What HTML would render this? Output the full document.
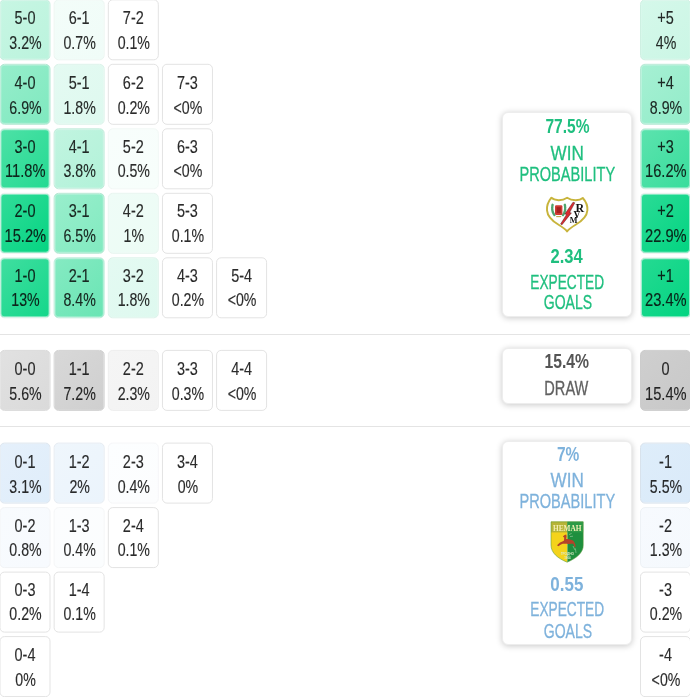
<!DOCTYPE html>
<html><head><meta charset="utf-8"><title>Score probabilities</title>
<style>
html,body{margin:0;padding:0;background:#fff;}
body{width:690px;height:697px;position:relative;overflow:hidden;font-family:"Liberation Sans",sans-serif;color:rgba(8,8,8,.86);}
.c{position:absolute;left:0;top:0;width:49px;height:59px;border:1px solid #e3e3e3;border-radius:5px;background:#fff;text-align:center;font-size:17.5px;line-height:25px;-webkit-text-stroke:0.15px rgba(8,8,8,.86);}

.c span{display:block;transform:translateY(var(--d,0px)) scaleX(.826);white-space:nowrap;margin:0 -10px;}
.c span+span{transform:translate(.5px,calc(var(--d,0px) - .1px)) scaleX(.81);}
.c span.w{transform:translate(.3px,calc(var(--d,0px) - .1px)) scaleX(.838);}
.u8{--d:-.8px}.u6{--d:-.6px}.u11{--d:-1.1px}
.c span:first-child{padding-top:5.7px;}
.hr{position:absolute;left:0;width:690px;height:1px;background:#e4e4e4;}
.p{position:absolute;left:502px;width:128px;border:1px solid #ededed;border-radius:6px;background:#fff;box-shadow:0 1px 6px rgba(0,0,0,.22);text-align:center;font-size:19.5px;line-height:20px;}
.p span{-webkit-text-stroke:0.3px currentColor;}
.p span,.p b{position:absolute;left:-36px;width:200px;display:block;white-space:nowrap;height:20px;}
.logo{position:absolute;}
.g{color:#1fbf7f;}
.b{color:#7eb2dc;}
.d{color:#616161;}
.d b{color:#555;}
</style></head><body>
<div class="c f" style="transform:translate(-0.5px,-0.7px);background:linear-gradient(135deg,#c7f6e3,#bbf3dd);border-color:#c5edde;box-shadow:inset 0 0 0 1px rgba(255,255,255,0.15);"><span>5-0</span><span>3.2%</span></div>
<div class="c f" style="transform:translate(53.65px,-0.7px);background:linear-gradient(135deg,#f3fdf9,#f0fcf8);border-color:#ebf6f1;box-shadow:inset 0 0 0 1px rgba(255,255,255,0.03);"><span>6-1</span><span>0.7%</span></div>
<div class="c" style="transform:translate(107.8px,-0.7px);"><span>7-2</span><span>0.1%</span></div>
<div class="c f" style="transform:translate(-0.5px,63.8px);background:linear-gradient(135deg,#96edcb,#7fe9bf);border-color:#b4e8d3;box-shadow:inset 0 0 0 1px rgba(255,255,255,0.28);"><span>4-0</span><span>6.9%</span></div>
<div class="c f" style="transform:translate(53.65px,63.8px);background:linear-gradient(135deg,#e4faf2,#def9ef);border-color:#dcf3ea;box-shadow:inset 0 0 0 1px rgba(255,255,255,0.07);"><span>5-1</span><span>1.8%</span></div>
<div class="c" style="transform:translate(107.8px,63.8px);"><span>6-2</span><span>0.2%</span></div>
<div class="c" style="transform:translate(161.95px,63.8px);"><span>7-3</span><span>&lt;0%</span></div>
<div class="c f u8" style="transform:translate(-0.5px,128.3px);background:linear-gradient(135deg,#4de1a6,#24da92);border-color:#d3eee3;box-shadow:inset 0 0 0 1px rgba(255,255,255,0.48);"><span>3-0</span><span class="w">11.8%</span></div>
<div class="c f u8" style="transform:translate(53.65px,128.3px);background:linear-gradient(135deg,#c1f4e0,#b2f2d9);border-color:#c1ecdb;box-shadow:inset 0 0 0 1px rgba(255,255,255,0.17);"><span>4-1</span><span>3.8%</span></div>
<div class="c f u8" style="transform:translate(107.8px,128.3px);background:linear-gradient(135deg,#f8fefc,#f7fefb);border-color:#f1f8f5;"><span>5-2</span><span>0.5%</span></div>
<div class="c u8" style="transform:translate(161.95px,128.3px);"><span>6-3</span><span>&lt;0%</span></div>
<div class="c f u8" style="transform:translate(-0.5px,192.8px);background:linear-gradient(135deg,#32dc99,#04d482);border-color:#e9f0ed;box-shadow:inset 0 0 0 1px rgba(255,255,255,0.55);"><span>2-0</span><span class="w">15.2%</span></div>
<div class="c f u8" style="transform:translate(53.65px,192.8px);background:linear-gradient(135deg,#99eecc,#81eac0);border-color:#b5e8d3;box-shadow:inset 0 0 0 1px rgba(255,255,255,0.28);"><span>3-1</span><span>6.5%</span></div>
<div class="c f u8" style="transform:translate(107.8px,192.8px);background:linear-gradient(135deg,#effcf7,#ecfcf5);border-color:#e7f5ef;box-shadow:inset 0 0 0 1px rgba(255,255,255,0.04);"><span>4-2</span><span>1%</span></div>
<div class="c u8" style="transform:translate(161.95px,192.8px);"><span>5-3</span><span>0.1%</span></div>
<div class="c f u8" style="transform:translate(-0.5px,257.3px);background:linear-gradient(135deg,#40dea0,#14d78a);border-color:#deefe8;box-shadow:inset 0 0 0 1px rgba(255,255,255,0.52);"><span>1-0</span><span>13%</span></div>
<div class="c f u8" style="transform:translate(53.65px,257.3px);background:linear-gradient(135deg,#85eac2,#69e5b4);border-color:#bbecd9;box-shadow:inset 0 0 0 1px rgba(255,255,255,0.33);"><span>2-1</span><span>8.4%</span></div>
<div class="c f u8" style="transform:translate(107.8px,257.3px);background:linear-gradient(135deg,#e4faf2,#def9ef);border-color:#dcf3ea;box-shadow:inset 0 0 0 1px rgba(255,255,255,0.07);"><span>3-2</span><span>1.8%</span></div>
<div class="c u8" style="transform:translate(161.95px,257.3px);"><span>4-3</span><span>0.2%</span></div>
<div class="c u8" style="transform:translate(216.1px,257.3px);"><span>5-4</span><span>&lt;0%</span></div>
<div class="c f" style="transform:translate(-0.5px,349.9px);background:linear-gradient(135deg,#e1e1e1,#dadada);border-color:#d9d9d9;"><span>0-0</span><span>5.6%</span></div>
<div class="c f" style="transform:translate(53.65px,349.9px);background:linear-gradient(135deg,#d8d8d8,#cfcfcf);border-color:#d2d2d2;"><span>1-1</span><span>7.2%</span></div>
<div class="c f" style="transform:translate(107.8px,349.9px);background:linear-gradient(135deg,#f5f5f5,#f3f3f3);border-color:#ededed;"><span>2-2</span><span>2.3%</span></div>
<div class="c" style="transform:translate(161.95px,349.9px);"><span>3-3</span><span>0.3%</span></div>
<div class="c" style="transform:translate(216.1px,349.9px);"><span>4-4</span><span>&lt;0%</span></div>
<div class="c f" style="transform:translate(-0.5px,442.6px);background:linear-gradient(135deg,#e5f0fb,#dfedfa);border-color:#dce5ee;"><span>0-1</span><span>3.1%</span></div>
<div class="c f" style="transform:translate(53.65px,442.6px);background:linear-gradient(135deg,#eff6fc,#ebf4fc);border-color:#e5ebf2;"><span>1-2</span><span>2%</span></div>
<div class="c f" style="transform:translate(107.8px,442.6px);background:linear-gradient(135deg,#fcfeff,#fcfdfe);border-color:#f5f6f8;"><span>2-3</span><span>0.4%</span></div>
<div class="c" style="transform:translate(161.95px,442.6px);"><span>3-4</span><span>0%</span></div>
<div class="c f u6" style="transform:translate(-0.5px,507.1px);background:linear-gradient(135deg,#f8fbfe,#f7fafe);border-color:#f1f3f6;"><span>0-2</span><span>0.8%</span></div>
<div class="c f u6" style="transform:translate(53.65px,507.1px);background:linear-gradient(135deg,#fcfdfe,#fbfdfe);border-color:#f4f6f7;"><span>1-3</span><span>0.4%</span></div>
<div class="c u6" style="transform:translate(107.8px,507.1px);"><span>2-4</span><span>0.1%</span></div>
<div class="c u11" style="transform:translate(-0.5px,571.6px);"><span>0-3</span><span>0.2%</span></div>
<div class="c u11" style="transform:translate(53.65px,571.6px);"><span>1-4</span><span>0.1%</span></div>
<div class="c" style="transform:translate(-0.5px,636.1px);"><span>0-4</span><span>0%</span></div>
<div class="c f" style="transform:translate(640px,-0.7px);background:linear-gradient(135deg,#d5f8ea,#cbf6e5);border-color:#cef0e2;box-shadow:inset 0 0 0 1px rgba(255,255,255,0.11);"><span>+5</span><span>4%</span></div>
<div class="c f" style="transform:translate(640px,63.8px);background:linear-gradient(135deg,#a6f0d3,#92ecc9);border-color:#b7e9d5;box-shadow:inset 0 0 0 1px rgba(255,255,255,0.24);"><span>+4</span><span>8.9%</span></div>
<div class="c f u8" style="transform:translate(640px,128.3px);background:linear-gradient(135deg,#5ce3ae,#38dd9c);border-color:#c9edde;box-shadow:inset 0 0 0 1px rgba(255,255,255,0.44);"><span>+3</span><span class="w">16.2%</span></div>
<div class="c f u8" style="transform:translate(640px,192.8px);background:linear-gradient(135deg,#2bdb96,#02d481);border-color:#e9f0ed;box-shadow:inset 0 0 0 1px rgba(255,255,255,0.57);"><span>+2</span><span class="w">22.9%</span></div>
<div class="c f u8" style="transform:translate(640px,257.3px);background:linear-gradient(135deg,#25da92,#02d481);border-color:#e9f0ed;box-shadow:inset 0 0 0 1px rgba(255,255,255,0.59);"><span>+1</span><span class="w">23.4%</span></div>
<div class="c f" style="transform:translate(640px,349.9px);background:linear-gradient(135deg,#cfcfcf,#c8c8c8);border-color:#cccccc;"><span>0</span><span class="w">15.4%</span></div>
<div class="c f" style="transform:translate(640px,442.6px);background:linear-gradient(135deg,#deedfa,#daeaf9);border-color:#d8e2ec;"><span>-1</span><span>5.5%</span></div>
<div class="c f u6" style="transform:translate(640px,507.1px);background:linear-gradient(135deg,#f7fafe,#f5f9fd);border-color:#eef2f6;"><span>-2</span><span>1.3%</span></div>
<div class="c u11" style="transform:translate(640px,571.6px);"><span>-3</span><span>0.2%</span></div>
<div class="c" style="transform:translate(640px,636.1px);"><span>-4</span><span>&lt;0%</span></div>
<div class="hr" style="top:334px"></div>
<div class="hr" style="top:426px"></div>

<div class="p g" style="top:112px;height:203px;">
<b id="w1" style="top:3.40px;transform:translateX(0.48px) scaleX(0.7971)">77.5%</b>
<span id="w2" style="top:30.40px;transform:translateX(0.21px) scaleX(0.8762)">WIN</span>
<span id="w3" style="top:50.80px;transform:translateX(0.32px) scaleX(0.7480)">PROBABILITY</span>
<b id="w4" style="top:132.60px;transform:translateX(-0.41px) scaleX(0.8488)">2.34</b>
<span id="w5" style="top:159.00px;transform:translateX(0.16px) scaleX(0.7016)">EXPECTED</span>
<span id="w6" style="top:178.90px;transform:translateX(0.92px) scaleX(0.7183)">GOALS</span>
</div>
<div class="p d" style="top:348px;height:54px;">
<b id="d1" style="top:2.30px;transform:translateX(-0.19px) scaleX(0.8071)">15.4%</b>
<span id="d2" style="top:29.20px;transform:translateX(-0.65px) scaleX(0.7478)">DRAW</span>
</div>
<div class="p b" style="top:441px;height:202px;">
<b id="l1" style="top:1.90px;transform:translateX(1.10px) scaleX(0.7927)">7%</b>
<span id="l2" style="top:28.40px;transform:translateX(0.21px) scaleX(0.8763)">WIN</span>
<span id="l3" style="top:48.80px;transform:translateX(0.31px) scaleX(0.7480)">PROBABILITY</span>
<b id="l4" style="top:131.60px;transform:translateX(-0.13px) scaleX(0.8696)">0.55</b>
<span id="l5" style="top:157.20px;transform:translateX(0.16px) scaleX(0.7017)">EXPECTED</span>
<span id="l6" style="top:178.50px;transform:translateX(0.93px) scaleX(0.7185)">GOALS</span>
</div>

<svg class="logo" style="left:540px;top:190px" width="56" height="48" viewBox="540 190 56 48">
<path d="M551.4 197.7 C554.4 200.8 562 201.2 567.1 197.8 C572.2 201.2 579.8 200.8 582.8 198 C586 201.6 587.8 205.8 587.4 210.4 C586.8 217.6 581 221.6 575.6 224.8 C572 227 569 229 567.1 231.4 C565.2 229 562.2 227 558.6 224.8 C553.2 221.6 547.6 217.6 547 210.4 C546.6 205.8 548.4 201.4 551.4 197.7 Z" fill="#fff" stroke="#c8b43c" stroke-width="1.9" stroke-linejoin="round"/>
<g stroke="#4fa56e" stroke-width="2.4" stroke-linecap="round" fill="none" stroke-dasharray="1.2 .9"><path d="M552.6 204.8 C551.8 208.4 552.2 212.2 554.4 215"/><path d="M564.8 204.8 C565.6 208.4 565.2 212.2 563 215"/></g>
<rect x="555" y="205.2" width="7.4" height="9.8" rx="1.2" fill="#cf3a33"/>
<rect x="556.6" y="207.2" width="4.2" height="5.8" fill="#a5221f"/>
<path d="M556.2 216.6 h5" stroke="#b9a94a" stroke-width="1.1"/>
<path d="M573 202.2 L574.8 202.8 L569.6 212.6 L571.4 212.9 L562 224.8 L560.6 224 L566.6 214.4 L564.9 214 Z" fill="#dc2a30" stroke="#3a1213" stroke-width=".45" stroke-linejoin="round"/>
<g font-family="'Liberation Serif',serif" font-weight="bold" fill="#111">
<text x="575.4" y="212.4" font-size="12">R</text>
<text x="573.6" y="218.4" font-size="9.6">V</text>
<text x="569.8" y="223" font-size="8.2">M</text>
</g>
</svg>

<svg class="logo" style="left:540px;top:515px" width="56" height="52" viewBox="540 515 56 52">
<defs><clipPath id="ns"><path d="M551 521.8 H583.3 V545 C583.3 553 576 558.5 567.1 562.2 C558 558.5 551 553 551 545 Z"/></clipPath></defs>
<g clip-path="url(#ns)">
<rect x="551" y="521" width="16.4" height="42" fill="#f4d31c"/>
<rect x="567.4" y="521" width="16" height="42" fill="#1e8f3e"/>
<rect x="551" y="521" width="16.4" height="11.4" fill="#b7b437"/>
<rect x="567.4" y="521" width="16" height="11.4" fill="#2c9a47"/>
<path d="M562.8 536.6 L564.6 535 L566.2 534.4 L566.6 536.2 L566.2 539 C568.4 539 571.4 539.6 573.6 541 L575.2 544 L575.6 547.2 L574.2 546.8 L573.4 543.8 C571 543.8 569 544.2 567 543.8 C565 543.8 562.6 543.6 561 544.4 L558.4 546.2 L557 545.2 L560 542.6 C561.6 541.6 563.4 541.6 564 540.6 L564.2 537.6 Z" fill="#b4432a"/>
<path d="M569 534.5 l2.6 -1 M570 536.6 l3 -.4 M573 546 l2 4 M575.4 548.4 l.6 4.6" stroke="#7fc08a" stroke-width=".8" fill="none"/>
</g>
<path d="M551 521.8 H583.3 V545 C583.3 553 576 558.5 567.1 562.2 C558 558.5 551 553 551 545 Z" fill="none" stroke="#5a9a3a" stroke-width=".7" opacity=".8"/>
<text x="567.3" y="531" text-anchor="middle" font-family="'Liberation Serif',serif" font-weight="bold" font-size="7.4" fill="#f3efb4" textLength="28.6" lengthAdjust="spacingAndGlyphs">НЕМАН</text>
<text x="567.4" y="555.4" text-anchor="middle" font-family="'Liberation Sans',sans-serif" font-weight="bold" font-size="3.2" fill="#dbe9c4">ГРОДНО</text>
<text x="567.4" y="559" text-anchor="middle" font-family="'Liberation Sans',sans-serif" font-weight="bold" font-size="2.8" fill="#dbe9c4">1964</text>
</svg>
</body></html>
